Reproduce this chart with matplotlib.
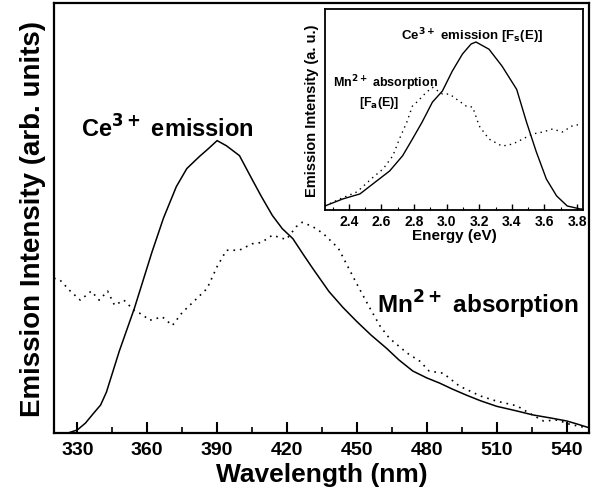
import matplotlib.pyplot as plt
from matplotlib.ticker import MultipleLocator

plt.rcParams['font.family'] = ['Liberation Sans', 'DejaVu Sans']
plt.rcParams['font.weight'] = 'bold'
plt.rcParams['mathtext.default'] = 'bf'

# Ce3+ emission spectrum (wavelength, nm)
ce_wl = [320, 326, 330, 333.5, 337, 340, 342.5, 348, 354.5, 362, 367, 372.5, 377,
         382.4, 386, 390, 394, 399.6, 405, 409, 413.7, 418, 422.5, 427, 431, 438,
         444, 449.8, 456, 462.7, 468, 474, 480, 485.5, 491, 497, 503, 510, 518,
         525.5, 533, 540, 545, 549.7]
ce_int = [0.0, 0.0, 0.007, 0.023, 0.046, 0.065, 0.095, 0.19, 0.29, 0.42, 0.50, 0.573,
          0.615, 0.643, 0.66, 0.68, 0.668, 0.645, 0.59, 0.55, 0.506, 0.475, 0.452,
          0.415, 0.383, 0.329, 0.292, 0.26, 0.228, 0.197, 0.17, 0.144, 0.128, 0.116,
          0.102, 0.088, 0.075, 0.062, 0.052, 0.042, 0.035, 0.028, 0.02, 0.012]

# Mn2+ absorption spectrum (wavelength, nm)
mn_wl = [320, 322.7, 327, 331.3, 336, 339.4, 343, 346, 350, 354.4, 358, 361, 366.5,
         370.8, 375, 380, 385.7, 390, 394, 399.5, 405, 409, 413.7, 419.7, 424, 426.5,
         431, 435.5, 442, 445.8, 451, 455.6, 460, 464, 471.5, 477, 481, 487, 494,
         503, 510, 518.7, 524, 530, 536, 541.5, 548.7]
mn_int = [0.36, 0.355, 0.33, 0.309, 0.33, 0.309, 0.33, 0.297, 0.309, 0.285, 0.275,
          0.262, 0.27, 0.25, 0.28, 0.306, 0.336, 0.387, 0.425, 0.425, 0.44, 0.443,
          0.46, 0.45, 0.48, 0.49, 0.48, 0.464, 0.43, 0.39, 0.336, 0.29, 0.248, 0.22,
          0.186, 0.167, 0.144, 0.139, 0.109, 0.086, 0.074, 0.063, 0.046, 0.028, 0.03,
          0.02, 0.012]

# same spectra on the energy scale (eV)
ce_e = [2.253, 2.363, 2.468, 2.57, 2.65, 2.73, 2.79, 2.85, 2.913, 2.974, 3.034,
        3.097, 3.15, 3.18, 3.26, 3.34, 3.43, 3.49, 3.55, 3.612, 3.675, 3.74, 3.82, 3.837]
ce_e_int = [0.02, 0.055, 0.08, 0.144, 0.194, 0.27, 0.353, 0.438, 0.537, 0.592, 0.69,
            0.776, 0.826, 0.836, 0.8, 0.716, 0.6, 0.438, 0.29, 0.154, 0.07, 0.02,
            0.005, 0.005]

mn_e = [2.253, 2.345, 2.45, 2.55, 2.61, 2.67, 2.71, 2.756, 2.79, 2.817, 2.877, 2.914,
        2.975, 3.017, 3.06, 3.12, 3.16, 3.2, 3.26, 3.34, 3.405, 3.467, 3.527, 3.59,
        3.65, 3.71, 3.77, 3.83]
mn_e_int = [0.02, 0.055, 0.09, 0.164, 0.204, 0.27, 0.353, 0.438, 0.517, 0.537, 0.587,
            0.61, 0.577, 0.577, 0.552, 0.517, 0.512, 0.418, 0.353, 0.318, 0.328, 0.353,
            0.378, 0.388, 0.403, 0.388, 0.418, 0.428]

dots = (0, (1, 3))

fig = plt.figure(figsize=(5.94, 5.02), dpi=100)
ax = fig.add_axes([0.0909, 0.1355, 0.9011, 0.8565])
ax.plot(ce_wl, ce_int, color='black', lw=1.1)
ax.plot(mn_wl, mn_int, color='black', lw=1.2, linestyle=dots)
ax.set_xlim(320, 549.7)
ax.set_ylim(0, 1)
ax.xaxis.set_minor_locator(MultipleLocator(15))
ax.set_xticks(range(330, 541, 30))
ax.set_yticks([])
ax.tick_params(axis='x', which='major', direction='in', length=8, width=1.5,
               labelsize=14, pad=6)
ax.tick_params(axis='x', which='minor', direction='in', length=4, width=1.2)
for sp in ax.spines.values():
    sp.set_linewidth(1.6)
ax.set_xlabel('Wavelength (nm)', fontsize=19, fontweight='bold', labelpad=3)
ax.set_ylabel('Emission Intensity (arb. units)', fontsize=20, fontweight='bold',
              labelpad=6)
ax.text(0.0502, 0.71, 'Ce$^{3+}$ emission', transform=ax.transAxes, fontsize=17,
        fontweight='bold', ha='left', va='center')
ax.text(0.604, 0.30, 'Mn$^{2+}$ absorption', transform=ax.transAxes, fontsize=17.5,
        fontweight='bold', ha='left', va='center')

# inset: both spectra against photon energy
ins = fig.add_axes([0.547, 0.5797, 0.4345, 0.4003])
ins.plot(ce_e, ce_e_int, color='black', lw=1.0)
ins.plot(mn_e, mn_e_int, color='black', lw=1.0, linestyle=dots)
ins.set_xlim(2.253, 3.837)
ins.set_ylim(0, 1)
ins.xaxis.set_minor_locator(MultipleLocator(0.1))
ins.set_xticks([2.4, 2.6, 2.8, 3.0, 3.2, 3.4, 3.6, 3.8])
ins.set_xticklabels(['2.4', '2.6', '2.8', '3.0', '3.2', '3.4', '3.6', '3.8'])
ins.set_yticks([])
ins.tick_params(axis='x', which='major', direction='in', length=4, width=1.0,
                labelsize=10, pad=3)
ins.tick_params(axis='x', which='minor', direction='in', length=2, width=0.8)
for sp in ins.spines.values():
    sp.set_linewidth(1.3)
ins.set_xlabel('Energy (eV)', fontsize=11, fontweight='bold', labelpad=0)
ins.set_ylabel('Emission Intensity (a. u.)', fontsize=10.5, fontweight='bold',
               labelpad=4)
ins.text(0.57, 0.87, 'Ce$^{3+}$ emission [F$_s$(E)]', transform=ins.transAxes,
         fontsize=9.5, fontweight='bold', ha='center', va='center')
ins.text(0.236, 0.635, 'Mn$^{2+}$ absorption', transform=ins.transAxes,
         fontsize=9, fontweight='bold', ha='center', va='center')
ins.text(0.21, 0.537, '[F$_a$(E)]', transform=ins.transAxes,
         fontsize=9, fontweight='bold', ha='center', va='center')

fig.savefig('out.png', dpi=100)
